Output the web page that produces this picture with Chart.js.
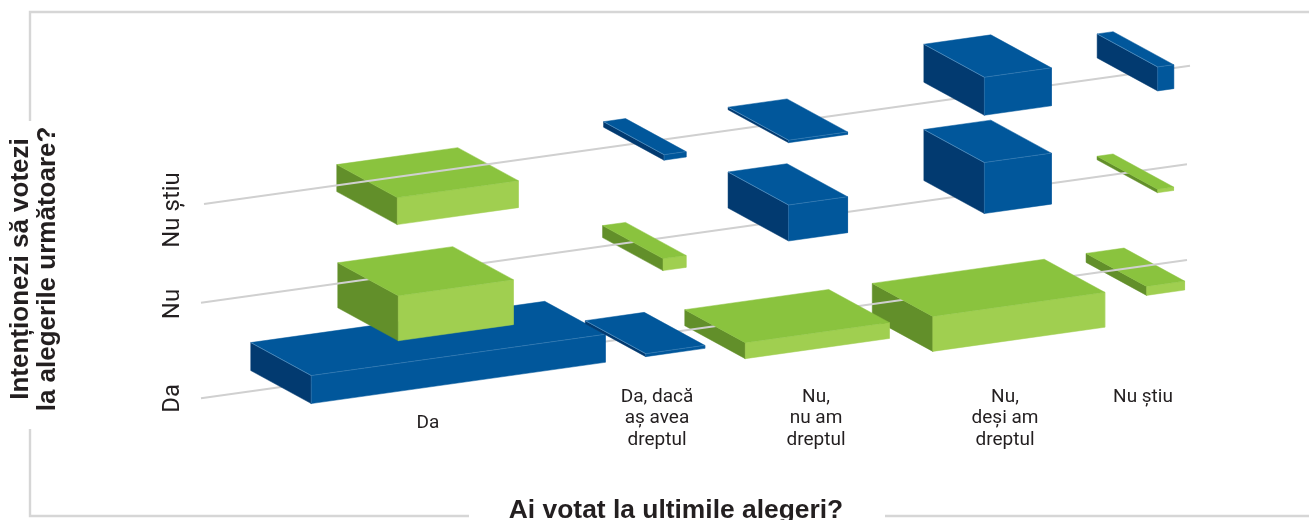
<!DOCTYPE html>
<html lang="ro">
<head>
<meta charset="utf-8">
<title>Ai votat la ultimile alegeri?</title>
<script src="https://cdn.jsdelivr.net/npm/chart.js@4/dist/chart.umd.min.js"></script>
<style>
  html, body { margin: 0; padding: 0; background: #fff; overflow: hidden; width: 1309px; height: 520px; }
  canvas { display: block; }
</style>
</head>
<body>
<canvas id="chart" width="1352" height="538"></canvas>
<script>
const colLabels = ['Da', ['Da, dacă', 'aș avea', 'dreptul'], ['Nu,', 'nu am', 'dreptul'], ['Nu,', 'deși am', 'dreptul'], 'Nu știu'];
const rowLabels = ['Da', 'Nu', 'Nu știu'];

// height of each row line where it would meet x = 0
const rowLevels = [111.5, 207.1, 305.4];

// box centres along the row lines, rows Da / Nu / Nu știu
const centresDa = [428, 645, 787, 988.5, 1135.3];
const centresNu = [425.5, 644.3, 787.8, 987.6, 1135.3];
const centresNs = [427.5, 644.8, 787.8, 987.6, 1135.4];

// box widths
const widthsDa = [294, 59, 144, 172, 38];
const widthsNu = [115, 23, 59, 67, 16];
const widthsNs = [121, 22, 59, 67, 16];

// signed box heights: above the line blue, below the line green
const heightsDa = [28, 3, -16, -35, -9];
const heightsNu = [-45, -12, 36, 51, -3.5];
const heightsNs = [-27, 5.5, 2.5, 38, 24];

const centres = [centresDa, centresNu, centresNs];
const widths = [widthsDa, widthsNu, widthsNs];
const heights = [heightsDa, heightsNu, heightsNs];

// projection of the floor
const SLOPE = 0.1403;
const DEPTH_X = -60.5;
const DEPTH_Y = 33;

const COLORS = {
  up: { top: '#01579b', side: '#023a70', front: '#01579b' },
  down: { top: '#8ac33e', side: '#628f2a', front: '#a0cf50' },
};
const LINE_COLOR = '#d0d0d0';
const EDGE_COLOR = 'rgba(150,190,225,0.4)';
const TEXT_COLOR = '#231f20';

// boxes the row line runs over completely
const lineOnTop = { '0-4': true, '2-0': true };

const lineStart = [201, 201, 204];
const lineEnd = [1187, 1187, 1190];

function corner(r, c, su, sd, z) {
  const x = centres[r][c] + su * widths[r][c] / 2;
  return {
    x: x + sd * DEPTH_X / 2,
    y: rowLevels[r] + SLOPE * x + sd * DEPTH_Y / 2 + z,
  };
}

function faces(r, c) {
  const h = heights[r][c];
  const hi = Math.max(h, 0);
  const lo = Math.min(h, 0);
  const L = corner(r, c, -1, 1, hi);
  const T = corner(r, c, -1, -1, hi);
  const R = corner(r, c, 1, -1, hi);
  const B = corner(r, c, 1, 1, hi);
  const F = corner(r, c, -1, -1, lo);
  const Lb = corner(r, c, -1, 1, lo);
  const Rb = corner(r, c, 1, -1, lo);
  return {
    top: [L, T, R, B, L],
    side: [L, T, F, Lb, L],
    front: [T, R, Rb, F, T],
    edge: [F, T, L, T, R],
  };
}

function polygon(points, color) {
  return {
    type: 'scatter', data: points, showLine: true, fill: 'shape',
    backgroundColor: color, borderColor: color, borderWidth: 0.5,
    pointRadius: 0, clip: false,
  };
}

function polyline(points, color, width) {
  return {
    type: 'scatter', data: points, showLine: true, fill: false,
    borderColor: color, borderWidth: width, pointRadius: 0, clip: false,
  };
}

function buildDatasets() {
  const out = [];
  rowLevels.forEach((level, r) => {
    const cols = centres[r].map((_, c) => c);
    const greens = cols.filter(c => heights[r][c] < 0);
    const blues = cols.filter(c => heights[r][c] > 0);
    const under = greens.filter(c => lineOnTop[r + '-' + c]);
    const over = greens.filter(c => !lineOnTop[r + '-' + c]);

    under.forEach(c => {
      const f = faces(r, c);
      out.push(polygon(f.side, COLORS.down.side), polygon(f.front, COLORS.down.front), polygon(f.top, COLORS.down.top));
    });
    over.forEach(c => out.push(polygon(faces(r, c).side, COLORS.down.side)));

    const a = { x: lineStart[r], y: level + SLOPE * lineStart[r] };
    const b = { x: lineEnd[r], y: level + SLOPE * lineEnd[r] };
    out.push(polyline([a, b], LINE_COLOR, 2));

    over.forEach(c => {
      const f = faces(r, c);
      out.push(polygon(f.front, COLORS.down.front), polygon(f.top, COLORS.down.top));
    });
    blues.forEach(c => {
      const f = faces(r, c);
      out.push(polygon(f.side, COLORS.up.side), polygon(f.front, COLORS.up.front), polygon(f.top, COLORS.up.top));
      out.push(polyline(f.edge, EDGE_COLOR, 0.6));
    });
  });
  // chart.js paints the lowest order last
  out.forEach((d, i) => { d.order = out.length - i; });
  return out;
}

const framePlugin = {
  id: 'frame',
  beforeDraw(chart) {
    const ctx = chart.ctx;
    ctx.save();
    ctx.strokeStyle = '#d6d6d6';
    ctx.lineWidth = 2.4;
    ctx.beginPath();
    ctx.moveTo(30, 121); ctx.lineTo(30, 12); ctx.lineTo(1352, 12);
    ctx.moveTo(30, 429); ctx.lineTo(30, 516); ctx.lineTo(469, 516);
    ctx.moveTo(885, 516); ctx.lineTo(1352, 516);
    ctx.stroke();
    ctx.restore();
  },
};

// the axes take no room in the layout, their labels are moved to where they sit here
const axisPlacement = {
  id: 'axisPlacement',
  afterLayout(chart) {
    chart.scales.x.top = 378;
    chart.scales.xDa.top = 404;
    chart.scales.y.right = 195;
  },
};

const noGrid = { display: false };
const noBorder = { display: false };
const xTickFont = { family: 'Roboto', size: 19, lineHeight: 1.14 };

new Chart(document.getElementById('chart'), {
  data: { datasets: buildDatasets() },
  plugins: [framePlugin, axisPlacement],
  options: {
    responsive: false,
    animation: false,
    layout: { padding: 0, autoPadding: false },
    plugins: { legend: { display: false }, tooltip: { enabled: false } },
    events: [],
    scales: {
      x: {
        type: 'linear', position: 'bottom', min: 0, max: 1352,
        grid: noGrid, border: noBorder,
        afterBuildTicks: ax => { ax.ticks = [657, 816, 1005, 1143].map(value => ({ value })); },
        afterFit: ax => { ax.height = 0; },
        ticks: {
          autoSkip: false, maxRotation: 0, minRotation: 0, padding: 0,
          color: TEXT_COLOR, font: xTickFont,
          callback: (v, i) => colLabels[i + 1],
        },
        title: {
          display: true, text: 'Ai votat la ultimile alegeri?', color: TEXT_COLOR,
          font: { family: 'Liberation Sans', weight: 'bold', size: 26.4 },
          padding: { top: 0, bottom: 11 },
        },
      },
      xDa: {
        type: 'linear', position: 'bottom', min: 0, max: 1352,
        grid: noGrid, border: noBorder,
        afterBuildTicks: ax => { ax.ticks = [{ value: 428 }]; },
        afterFit: ax => { ax.height = 0; },
        ticks: {
          autoSkip: false, maxRotation: 0, minRotation: 0, padding: 0,
          color: TEXT_COLOR, font: xTickFont,
          callback: () => colLabels[0],
        },
      },
      y: {
        type: 'linear', position: 'left', min: 0, max: 538,
        grid: noGrid, border: noBorder,
        afterBuildTicks: ax => { ax.ticks = [139.7, 234, 328].map(value => ({ value })); },
        afterFit: ax => { ax.width = 0; },
        ticks: {
          autoSkip: false, minRotation: 90, maxRotation: 90, padding: -24, crossAlign: 'center',
          color: TEXT_COLOR, font: { family: 'Roboto', size: 24 },
          callback: (v, i) => rowLabels[i],
        },
        title: {
          display: true, text: ['Intenționezi să votezi', 'la alegerile următoare?'], color: TEXT_COLOR,
          font: { family: 'Liberation Sans', weight: 'bold', size: 26, lineHeight: 1.04 },
          padding: { top: 7, bottom: 0 },
        },
      },
    },
  },
});
</script>
</body>
</html>
